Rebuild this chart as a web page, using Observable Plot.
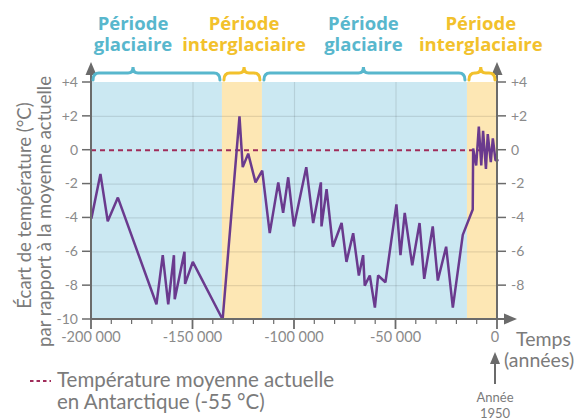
<!DOCTYPE html>
<html><head><meta charset="utf-8">
<script src="https://cdn.jsdelivr.net/npm/d3@7"></script>
<script src="https://cdn.jsdelivr.net/npm/@observablehq/plot@0.6"></script>
<style>body{margin:0;background:#fff} svg{display:block}</style>
</head><body><div id="chart"></div>
<script>
// ---- data ----
const years = [-200000,-195600,-192000,-187000,-168000,-164900,-162200,-159400,-159000,-154200,-153900,-150100,-135400,
  -127100,-125500,-122800,-119200,-115900,-112200,-108000,-105600,-103100,-100300,-94200,-90800,-87000,-86700,-84200,
  -81100,-76800,-74400,-71100,-68300,-66200,-65400,-62900,-60400,-58800,-55200,-49800,-47800,-45700,-42000,-38400,
  -36100,-31900,-29400,-25300,-22000,-17100,-12200,-12000,-10500,-9200,-8000,-7100,-5700,-4800,-3300,-2300,-1000,0];
const temps = [-4.0,-1.4,-4.2,-2.8,-9.1,-6.2,-9.1,-6.2,-8.8,-6.0,-7.9,-6.6,-10.0,
  2.0,-1.0,-0.2,-1.9,-1.2,-4.9,-1.9,-3.7,-1.6,-4.5,-1.0,-4.3,-1.9,-4.5,-2.3,
  -5.7,-4.3,-6.6,-4.9,-7.4,-6.2,-8.0,-7.4,-9.3,-7.4,-7.8,-3.2,-6.2,-3.7,-6.8,-4.3,
  -7.6,-4.5,-7.7,-5.7,-9.3,-5.0,-3.5,0.1,-0.9,1.4,-0.9,1.15,-1.1,0.95,-0.7,0.7,-0.6,-0.6];
const periodStarts = [-200000, -135500, -115800, -14800];
const periodEnds   = [-135500, -115800, -14800, 0];
const periodKinds  = ["glaciaire", "interglaciaire", "glaciaire", "interglaciaire"];
const periodLabelAt = [-179300, -124600, -65800, -8000];
const yTicks = [4, 2, 0, -2, -4, -6, -8, -10];
const yTickLabelsLeft = ["+4", "+2", "0", "-2", "-4", "-6", "-8", "-10"];
const yTickLabelsRight = ["+4", "+2", "0", "-2", "-4", "-6", "-8", ""];
const yGrid = [2, -2, -4, -6, -8];
const xTicks = [-200000, -150000, -100000, -50000, 0];
const xTickLabels = ["-200 000", "-150 000", "-100 000", "-50 000", "0"];
const xMinor = [-190000,-180000,-170000,-160000,-140000,-130000,-120000,-110000,-90000,-80000,-70000,-60000,-40000,-30000,-20000,-10000];
const xGrid = [-150000, -100000, -50000];
const refTemp = 0;

const series = years.map((y, i) => ({year: y, temp: temps[i]}));
const periods = periodStarts.map((s, i) => ({start: s, end: periodEnds[i], kind: periodKinds[i], at: periodLabelAt[i]}));

const BLUE_BG = "#cbe8f2", YEL_BG = "#fde7b4";
const BLUE = "#58b7cd", YEL = "#f2c12c";
const AXIS = "#6b6b6b", TICKTXT = "#8a8a8a", TXT = "#7b7b7b";

const plot = Plot.plot({
  width: 586, height: 419,
  marginLeft: 91, marginRight: 89, marginTop: 82, marginBottom: 100,
  x: {domain: [-200000, 0], axis: null},
  y: {domain: [-10, 4], axis: null},
  marks: [
    Plot.rect(periods, {x1: "start", x2: "end", y1: -10, y2: 4, fill: d => d.kind === "glaciaire" ? BLUE_BG : YEL_BG}),
    Plot.ruleY(yGrid, {stroke: "#000", strokeOpacity: 0.1, strokeWidth: 1.2}),
    Plot.ruleX(xGrid, {y1: -10, y2: 4, stroke: "#000", strokeOpacity: 0.1, strokeWidth: 1.2}),
    Plot.ruleY([refTemp], {stroke: "#a02c5a", strokeWidth: 2, strokeDasharray: "5,4"}),
    Plot.line(series, {x: "year", y: "temp", stroke: "#6a3a8e", strokeWidth: 2.5, strokeLinejoin: "miter"})
  ]
});
document.getElementById("chart").appendChild(plot);

const sx = plot.scale("x"), sy = plot.scale("y");
const X = v => sx.apply(v), Y = v => sy.apply(v);
const svg = d3.select(plot);
const g = svg.append("g").attr("text-anchor", "start").attr("font-family", "Lato");
const x0 = X(-200000), x1 = X(0), yb = Y(-10), yt = Y(4);

// axes with arrows
const topTip = yt - 20, rightTip = x1 + 20;
g.append("line").attr("x1", x0).attr("x2", x0).attr("y1", yb).attr("y2", topTip + 10).attr("stroke", AXIS).attr("stroke-width", 2);
g.append("line").attr("x1", x1).attr("x2", x1).attr("y1", yb).attr("y2", topTip + 10).attr("stroke", AXIS).attr("stroke-width", 2);
g.append("line").attr("x1", x0 - 1).attr("x2", rightTip - 10).attr("y1", yb).attr("y2", yb).attr("stroke", AXIS).attr("stroke-width", 2);
[x0, x1].forEach(x => g.append("path").attr("d", `M${x},${topTip} L${x-5.5},${topTip+13} L${x+5.5},${topTip+13} Z`).attr("fill", AXIS));
g.append("path").attr("d", `M${rightTip},${yb} L${rightTip-13},${yb-5.5} L${rightTip-13},${yb+5.5} Z`).attr("fill", AXIS);

// y ticks
yTicks.forEach((t, i) => {
  const y = Y(t);
  g.append("line").attr("x1", x0 - 9).attr("x2", x0).attr("y1", y).attr("y2", y).attr("stroke", AXIS).attr("stroke-width", 1.5);
  g.append("line").attr("x1", x1).attr("x2", x1 + 9).attr("y1", y).attr("y2", y).attr("stroke", AXIS).attr("stroke-width", 1.5);
  g.append("text").attr("x", x0 - 13).attr("y", y).attr("dy", "0.35em").attr("text-anchor", "end")
    .attr("font-size", 14).attr("fill", TICKTXT).text(yTickLabelsLeft[i]);
  g.append("text").attr("x", x1 + 14).attr("y", y).attr("dy", "0.35em").attr("text-anchor", "start")
    .attr("font-size", 14).attr("fill", TICKTXT).text(yTickLabelsRight[i]);
});
// x ticks
xTicks.forEach((t, i) => {
  const x = X(t);
  g.append("line").attr("x1", x).attr("x2", x).attr("y1", yb).attr("y2", yb + 10).attr("stroke", AXIS).attr("stroke-width", 1.8);
  g.append("text").attr("x", i === xTicks.length - 1 ? x - 2 : x).attr("y", yb + 23).attr("text-anchor", "middle")
    .attr("font-size", 14.5).attr("fill", TICKTXT).text(xTickLabels[i]);
});
xMinor.forEach(t => {
  const x = X(t);
  g.append("line").attr("x1", x).attr("x2", x).attr("y1", yb).attr("y2", yb + 5).attr("stroke", AXIS).attr("stroke-width", 1.2);
});

// braces and period titles
const braceY = 73;
periods.forEach(p => {
  const a = X(p.start) + 2, b = X(p.end) - 2, t = X(p.at);
  const col = p.kind === "glaciaire" ? BLUE : YEL;
  const d = `M${a},${braceY+7} Q${a},${braceY} ${a+6},${braceY} L${t-5},${braceY} Q${t},${braceY} ${t},${braceY-6} Q${t},${braceY} ${t+5},${braceY} L${b-6},${braceY} Q${b},${braceY} ${b},${braceY+7}`;
  g.append("path").attr("d", d).attr("fill", "none").attr("stroke", col).attr("stroke-width", 3).attr("stroke-linecap", "round");
  const tx = g.append("text").attr("text-anchor", "middle").attr("font-family", "Open Sans").attr("font-weight", 700)
    .attr("font-size", 18.5).attr("fill", col);
  tx.append("tspan").attr("x", t).attr("y", 30).text("Période");
  tx.append("tspan").attr("x", t).attr("y", 51).text(p.kind);
});

// y title
const ytl = g.append("text").attr("transform", `translate(0,${(yt+yb)/2 + 5}) rotate(-90)`).attr("text-anchor", "middle")
  .attr("font-size", 18.5).attr("fill", TXT);
ytl.append("tspan").attr("x", 0).attr("y", 31).text("Écart de température (°C)");
ytl.append("tspan").attr("x", -6).attr("y", 51).text("par rapport à la moyenne actuelle");

// x title
g.append("text").attr("x", 516).attr("y", 346).attr("font-size", 19.5).attr("fill", TXT).text("Temps");
g.append("text").attr("x", 504).attr("y", 367).attr("font-size", 19.5).attr("fill", TXT).text("(années)");

// arrow to year 1950
const ax = X(0) - 2;
g.append("line").attr("x1", ax).attr("x2", ax).attr("y1", 384).attr("y2", 362).attr("stroke", AXIS).attr("stroke-width", 2);
g.append("path").attr("d", `M${ax},${352} L${ax-5},${364} L${ax+5},${364} Z`).attr("fill", AXIS);
g.append("text").attr("x", ax).attr("y", 402).attr("text-anchor", "middle").attr("font-size", 13).attr("fill", TXT).text("Année");
g.append("text").attr("x", ax).attr("y", 418).attr("text-anchor", "middle").attr("font-size", 13).attr("fill", TXT).text("1950");

// legend
g.append("line").attr("x1", 30).attr("x2", 51).attr("y1", 381).attr("y2", 381).attr("stroke", "#a02c5a").attr("stroke-width", 2).attr("stroke-dasharray", "3.5,3");
g.append("text").attr("x", 57).attr("y", 387).attr("font-size", 20.5).attr("fill", TXT).text("Température moyenne actuelle");
g.append("text").attr("x", 57).attr("y", 409).attr("font-size", 20.5).attr("fill", TXT).text("en Antarctique (-55 °C)");
</script>
</body></html>
